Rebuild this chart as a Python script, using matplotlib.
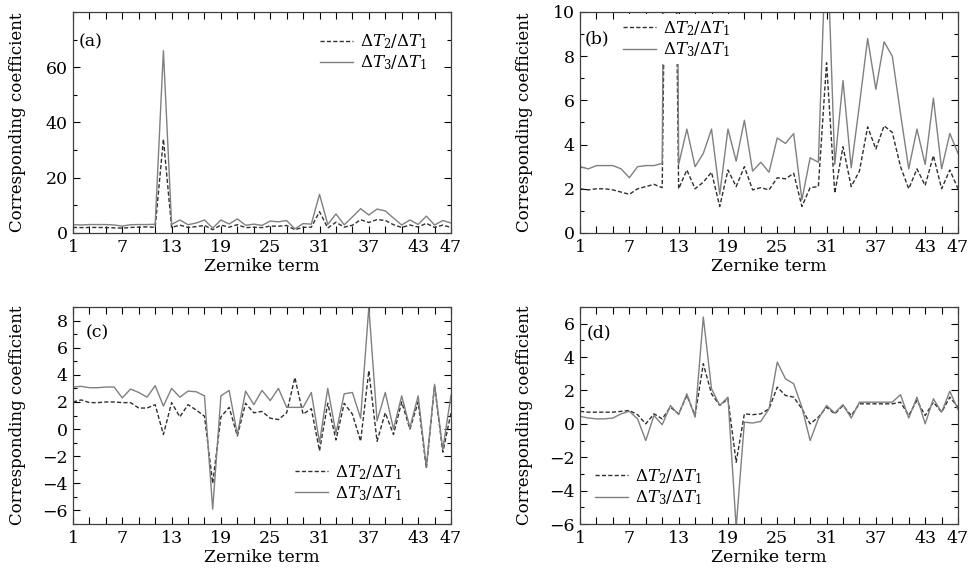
import numpy as np
import matplotlib
matplotlib.use("Agg")
import matplotlib.pyplot as plt
from matplotlib.ticker import MultipleLocator

# Zernike coefficient ratios
zernike = np.arange(1, 48)

# panels (a) and (b) show the same data with different y ranges
ab_t2 = [2.0, 1.95, 2.0, 2.0, 1.95, 1.85, 1.75, 2.0, 2.1, 2.2,
         2.05, 34.0, 2.0, 2.85, 2.0, 2.3, 2.75, 1.2, 2.85, 2.1,
         3.0, 1.95, 2.05, 1.95, 2.5, 2.45, 2.7, 1.2, 2.05, 2.1,
         7.7, 1.8, 3.9, 2.1, 2.8, 4.8, 3.8, 4.85, 4.55, 3.0,
         2.0, 2.9, 2.15, 3.5, 2.0, 2.85, 2.0]
ab_t3 = [3.0, 2.9, 3.05, 3.05, 3.05, 2.9, 2.5, 3.0, 3.05, 3.05,
         3.15, 66.0, 3.1, 4.7, 3.0, 3.6, 4.7, 1.75, 4.7, 3.25,
         5.1, 2.8, 3.2, 2.75, 4.3, 4.05, 4.5, 1.5, 3.4, 3.2,
         14.0, 3.1, 6.9, 2.95, 5.8, 8.8, 6.5, 8.65, 8.0, 5.4,
         2.9, 4.7, 3.1, 6.1, 2.9, 4.5, 3.6]

c_t2 = [2.0, 2.15, 1.95, 1.95, 2.0, 2.0, 1.95, 1.95, 1.55, 1.55,
        1.8, -0.4, 1.95, 0.9, 1.8, 1.4, 0.95, -4.0, 0.9, 1.6,
        -0.5, 1.9, 1.2, 1.3, 0.8, 0.7, 1.2, 3.8, 1.1, 1.5,
        -1.6, 1.9, -0.8, 1.9, 1.1, -0.9, 4.3, -0.9, 1.2, -0.4,
        2.0, 0.0, 2.0, -2.9, 3.2, -1.7, 1.2]
c_t3 = [3.1, 3.15, 3.05, 3.05, 3.1, 3.1, 2.3, 2.95, 2.7, 2.35,
        3.2, 1.7, 3.0, 2.35, 2.8, 2.75, 2.45, -5.9, 2.45, 2.85,
        -0.4, 2.8, 1.8, 2.85, 2.1, 3.0, 1.6, 1.6, 1.6, 2.7,
        -1.0, 3.0, -0.3, 2.6, 2.7, 0.8, 9.0, 0.6, 2.7, 0.0,
        2.45, 0.1, 2.45, -2.8, 3.3, -1.5, 2.5]

d_t2 = [0.75, 0.7, 0.7, 0.7, 0.7, 0.75, 0.8, 0.55, 0.0, 0.6,
        0.3, 1.0, 0.6, 1.7, 0.5, 3.6, 1.8, 1.1, 1.5, -2.3,
        0.6, 0.55, 0.6, 0.9, 2.2, 1.7, 1.6, 0.9, 0.0, 0.4,
        1.0, 0.6, 1.1, 0.5, 1.2, 1.2, 1.2, 1.2, 1.2, 1.3,
        0.5, 1.4, 0.5, 1.3, 0.7, 1.6, 1.0]
d_t3 = [0.45, 0.35, 0.3, 0.3, 0.35, 0.6, 0.75, 0.3, -1.0, 0.5,
        -0.05, 1.1, 0.55, 1.8, 0.4, 6.4, 2.1, 1.1, 1.6, -6.2,
        0.1, 0.05, 0.15, 0.9, 3.7, 2.7, 2.4, 1.0, -1.0, 0.3,
        1.1, 0.65, 1.15, 0.35, 1.3, 1.3, 1.3, 1.3, 1.3, 1.75,
        0.35, 1.6, 0.0, 1.5, 0.7, 1.95, 0.85]

xtick_labels = [1, 7, 13, 19, 25, 31, 37, 43, 47]

plt.rcParams['font.family'] = 'DejaVu Serif'
plt.rcParams['mathtext.fontset'] = 'dejavuserif'
plt.rcParams['font.size'] = 11.5

lab2 = r'$\Delta T_2/\Delta T_1$'
lab3 = r'$\Delta T_3/\Delta T_1$'


def panel(ax, t2, t3, ylim, yticks, yminor, tag, tagxy, leg_loc, leg_anchor):
    ax.plot(zernike, t2, color='#303030', lw=1.0, dashes=(3, 1.6), label=lab2)
    ax.plot(zernike, t3, color='#808080', lw=1.0, label=lab3)
    ax.set_xlim(1, 47)
    ticks = list(range(1, 48, 2))
    ax.set_xticks(ticks)
    ax.set_xticklabels([str(t) if t in xtick_labels else '' for t in ticks])
    ax.set_yticks(yticks)
    ax.yaxis.set_minor_locator(MultipleLocator(yminor))
    ax.set_ylim(*ylim)
    ax.tick_params(which='both', direction='in', top=True, right=True,
                   width=0.8, labelsize=12.5, pad=4)
    ax.tick_params(which='major', length=5)
    ax.tick_params(which='minor', length=3)
    for s in ax.spines.values():
        s.set_linewidth(0.9)
        s.set_color('#404040')
    ax.set_xlabel('Zernike term', fontsize=12.5, labelpad=2)
    ax.set_ylabel('Corresponding coefficient', fontsize=12)
    ax.yaxis.set_label_coords(-0.125, 0.5)
    ax.text(tagxy[0], tagxy[1], tag, transform=ax.transAxes,
            fontsize=12.5, va='center', ha='left')
    leg = ax.legend(loc=leg_loc, bbox_to_anchor=leg_anchor, borderaxespad=0,
                    fontsize=12, handlelength=2.0, handletextpad=0.4,
                    labelspacing=0.15, borderpad=0.3, frameon=True,
                    fancybox=False, framealpha=1)
    leg.get_frame().set_edgecolor('none')
    leg.get_frame().set_facecolor('white')


fig = plt.figure(figsize=(9.76, 5.73), dpi=100)
ax_a = fig.add_axes([0.0748, 0.5934, 0.3873, 0.3857])
ax_b = fig.add_axes([0.5943, 0.5934, 0.3873, 0.3857])
ax_c = fig.add_axes([0.0748, 0.0855, 0.3873, 0.3787])
ax_d = fig.add_axes([0.5943, 0.0855, 0.3873, 0.3787])

panel(ax_a, ab_t2, ab_t3, (0, 80), [0, 20, 40, 60], 10, '(a)', (0.015, 0.865),
      'upper right', (0.95, 0.93))
panel(ax_b, ab_t2, ab_t3, (0, 10), [0, 2, 4, 6, 8, 10], 1, '(b)', (0.013, 0.88),
      'upper left', (0.10, 0.99))
panel(ax_c, c_t2, c_t3, (-7, 9), [-6, -4, -2, 0, 2, 4, 6, 8], 1, '(c)', (0.034, 0.88),
      'lower left', (0.574, 0.074))
panel(ax_d, d_t2, d_t3, (-6, 7), [-6, -4, -2, 0, 2, 4, 6], 1, '(d)', (0.018, 0.88),
      'lower left', (0.026, 0.055))

fig.savefig('out.png', dpi=100)
